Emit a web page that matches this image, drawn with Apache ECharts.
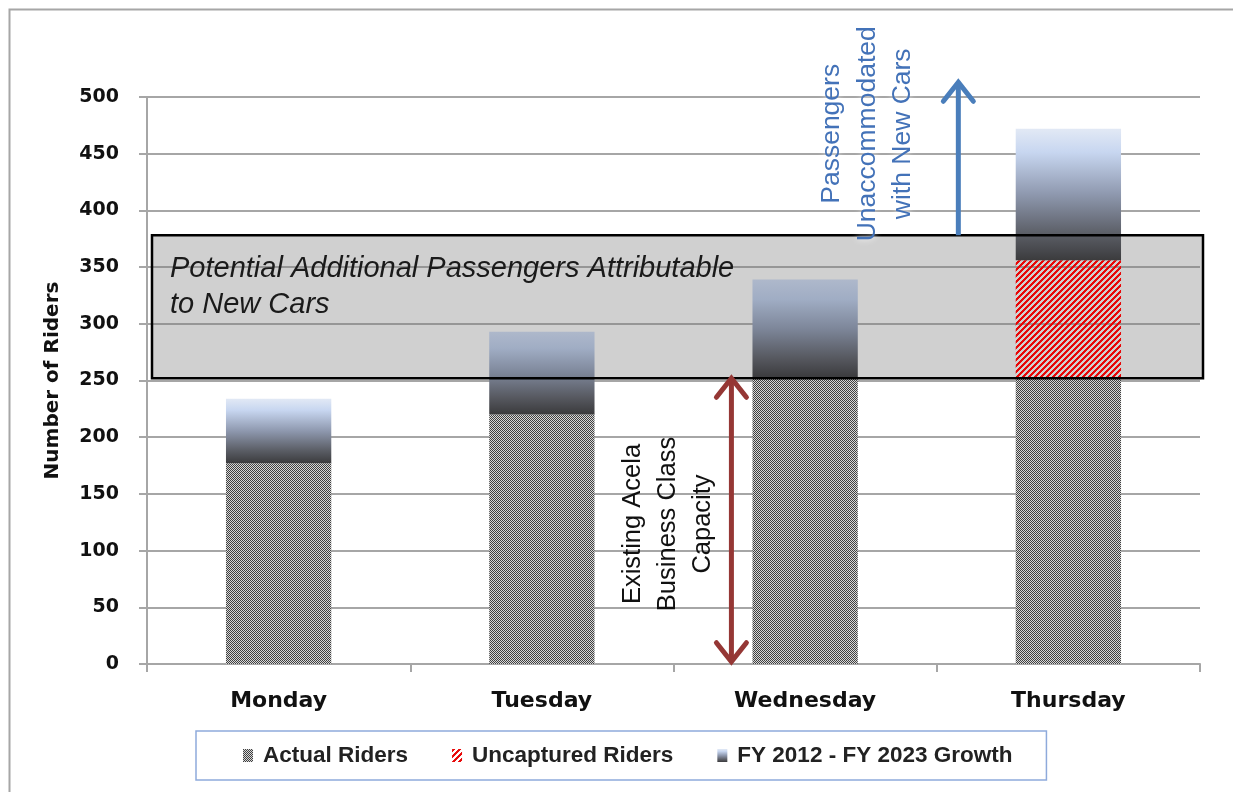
<!DOCTYPE html>
<html><head><meta charset="utf-8">
<script src="https://cdn.jsdelivr.net/npm/echarts@6/dist/echarts.min.js"></script>
<style>html,body{margin:0;padding:0;background:#fff}#chart{width:1233px;height:792px}</style>
</head><body><div id="chart"></div>
<script>
// ---- data ----
const categories = ['Monday', 'Tuesday', 'Wednesday', 'Thursday'];
const actualRiders = [177, 220, 252, 252];
const uncapturedRiders = [0, 0, 0, 104];
const growthRiders = [57, 73, 87, 116];
const yAxisMin = 0, yAxisMax = 500, yAxisInterval = 50;
const potentialBand = [252, 378];          // grey box (riders)
const capacityArrow = [2, 252];           // red double arrow (riders)
const unaccommodatedArrow = [378, 513];   // blue arrow (riders)
const seriesNames = ['Actual Riders', 'Uncaptured Riders', 'FY 2012 - FY 2023 Growth'];
const boxLabel = 'Potential Additional Passengers Attributable\nto New Cars';
const capacityLabel = 'Existing Acela\nBusiness Class\nCapacity';
const unaccommodatedLabel = 'Passengers\nUnaccommodated\nwith New Cars';

// ---- fills ----
function checker() {
  const c = document.createElement('canvas'); c.width = 2; c.height = 2;
  const g = c.getContext('2d');
  g.fillStyle = '#d8d8d8'; g.fillRect(0, 0, 2, 2);
  g.fillStyle = '#404040'; g.fillRect(0, 0, 1, 1); g.fillRect(1, 1, 1, 1);
  return c;
}
function hatch() {
  const n = 6; const c = document.createElement('canvas'); c.width = n; c.height = n;
  const g = c.getContext('2d'); const img = g.createImageData(n, n);
  for (let y = 0; y < n; y++) for (let x = 0; x < n; x++) {
    const i = (y * n + x) * 4;
    if ((x + y) % n < 3) { img.data[i] = 232; img.data[i + 1] = 8; img.data[i + 2] = 8; img.data[i + 3] = 255; }
  }
  g.putImageData(img, 0, 0); return c;
}
const checkerFill = { image: checker(), repeat: 'repeat' };
const hatchFill = { image: hatch(), repeat: 'repeat' };
const lightGrad = new echarts.graphic.LinearGradient(0, 0, 0, 1, [
  { offset: 0, color: '#e2e9f5' }, { offset: 0.18, color: '#c7d6f0' },
  { offset: 0.5, color: '#8e98ae' }, { offset: 0.8, color: '#5b5e66' }, { offset: 1, color: '#3b3b3d' }]);
const grayGrad = new echarts.graphic.LinearGradient(0, 0, 0, 1, [
  { offset: 0, color: '#aeb8cb' }, { offset: 0.2, color: '#a0adc4' },
  { offset: 0.5, color: '#7d8699' }, { offset: 0.8, color: '#56585f' }, { offset: 1, color: '#3a3a3c' }]);

const growthData = growthRiders.map((v, i) => {
  const top = actualRiders[i] + uncapturedRiders[i] + v;
  const inBand = top > potentialBand[0] && top < potentialBand[1];
  return inBand ? { value: v, itemStyle: { color: grayGrad } } : v;
});

const sansFont = '"Liberation Sans", Arial, sans-serif';
const axisFont = '"DejaVu Sans", Verdana, sans-serif';

function arrowShapes(x, yTail, yTip, color, doubleHead) {
  const w = 15, h = 19, lw = 5;
  const els = [{ type: 'line', shape: { x1: x, y1: yTail, x2: x, y2: yTip }, style: { stroke: color, lineWidth: lw } }];
  const dir = yTip < yTail ? 1 : -1;
  els.push({ type: 'polyline', shape: { points: [[x - w, yTip + dir * h], [x, yTip], [x + w, yTip + dir * h]] },
    style: { stroke: color, lineWidth: lw, fill: null, lineJoin: 'miter', lineCap: 'round' } });
  if (doubleHead) {
    els.push({ type: 'polyline', shape: { points: [[x - w, yTail - dir * h], [x, yTail], [x + w, yTail - dir * h]] },
      style: { stroke: color, lineWidth: lw, fill: null, lineJoin: 'miter', lineCap: 'round' } });
  }
  return els;
}

const chart = echarts.init(document.getElementById('chart'), null, { renderer: 'canvas' });
chart.setOption({
  animation: false,
  backgroundColor: '#ffffff',
  graphic: [{ type: 'rect', left: 7, top: 7, shape: { width: 1240, height: 800 }, style: { fill: null, stroke: '#a6a6a6', lineWidth: 2 }, z: -10 }],
  grid: { left: 147, right: 33, top: 97, bottom: 128 },
  xAxis: {
    type: 'category', data: categories,
    axisLine: { lineStyle: { color: '#a6a6a6', width: 2 } },
    axisTick: { show: true, length: 8, lineStyle: { color: '#a6a6a6', width: 2 } },
    axisLabel: { margin: 26, fontFamily: axisFont, fontWeight: 'bold', fontSize: 22, color: '#111' }
  },
  yAxis: {
    type: 'value', min: yAxisMin, max: yAxisMax, interval: yAxisInterval,
    name: 'Number of Riders', nameLocation: 'middle', nameRotate: 90, nameGap: 84,
    nameTextStyle: { fontFamily: axisFont, fontWeight: 'bold', fontSize: 20, color: '#111' },
    axisLine: { show: true, lineStyle: { color: '#a6a6a6', width: 2 } },
    axisTick: { show: true, length: 8, lineStyle: { color: '#a6a6a6', width: 2 } },
    axisLabel: { margin: 28, fontFamily: axisFont, fontWeight: 'bold', fontSize: 19, color: '#111' },
    splitLine: { lineStyle: { color: '#a6a6a6', width: 2 } }
  },
  legend: {
    left: 196, top: 731, orient: 'horizontal',
    itemWidth: 10, itemHeight: 13, itemGap: 44,
    padding: [13, 34, 13, 47],
    borderColor: '#8eaadb', borderWidth: 1.5,
    textStyle: { fontFamily: sansFont, fontWeight: 'bold', fontSize: 22.5, color: '#222', padding: [0, 0, 0, 5] },
    data: seriesNames.map(n => ({ name: n, icon: 'rect' }))
  },
  series: [
    { // grey band fill
      type: 'custom', z: 1, silent: true,
      data: [[0, potentialBand[0], potentialBand[1]]],
      renderItem: (params, api) => {
        const cs = params.coordSys;
        const yTop = api.coord([0, api.value(2)])[1];
        const yBot = api.coord([0, api.value(1)])[1];
        return { type: 'rect', shape: { x: cs.x + 5, y: yTop, width: cs.width - 2, height: yBot - yTop },
          style: { fill: 'rgba(120,120,120,0.35)' } };
      }
    },
    { name: seriesNames[0], type: 'bar', stack: 'riders', z: 2, barCategoryGap: '60%',
      itemStyle: { color: checkerFill }, data: actualRiders },
    { name: seriesNames[1], type: 'bar', stack: 'riders', z: 2,
      itemStyle: { color: hatchFill }, data: uncapturedRiders },
    { name: seriesNames[2], type: 'bar', stack: 'riders', z: 2,
      itemStyle: { color: lightGrad }, data: growthData },
    { // grey band border + label
      type: 'custom', z: 3, silent: true,
      data: [[0, potentialBand[0], potentialBand[1]]],
      renderItem: (params, api) => {
        const cs = params.coordSys;
        const yTop = api.coord([0, api.value(2)])[1];
        const yBot = api.coord([0, api.value(1)])[1];
        return { type: 'group', children: [
          { type: 'rect', shape: { x: cs.x + 5, y: yTop, width: cs.width - 2, height: yBot - yTop },
            style: { fill: null, stroke: '#000', lineWidth: 2.5 } },
          { type: 'text', x: cs.x + 23, y: (yTop + yBot) / 2 - 20,
            style: { text: boxLabel, fill: '#1a1a1a', fontFamily: sansFont, fontStyle: 'italic', fontSize: 29,
              lineHeight: 36, align: 'left', verticalAlign: 'middle' } }
        ] };
      }
    },
    { // capacity arrow + text
      type: 'custom', z: 4, silent: true,
      data: [[2, capacityArrow[0], capacityArrow[1]]],
      renderItem: (params, api) => {
        const band = api.size([1, 0])[0];
        const c = api.coord([api.value(0), api.value(1)]);
        const yTip = api.coord([api.value(0), api.value(2)])[1];
        const x = c[0] - 0.28 * band;
        const tx = c[0] - 0.52 * band;
        const els = arrowShapes(x, c[1], yTip, '#953735', true);
        els.push({ type: 'text', x: tx, y: (c[1] + yTip) / 2 + 4, rotation: Math.PI / 2,
          style: { text: capacityLabel, fill: '#111', fontFamily: sansFont, fontSize: 25.5, lineHeight: 35,
            align: 'center', verticalAlign: 'middle' } });
        return { type: 'group', children: els };
      }
    },
    { // unaccommodated arrow + text
      type: 'custom', z: 4, silent: true,
      data: [[3, unaccommodatedArrow[0], unaccommodatedArrow[1]]],
      renderItem: (params, api) => {
        const band = api.size([1, 0])[0];
        const c = api.coord([api.value(0), api.value(1)]);
        const yTip = api.coord([api.value(0), api.value(2)])[1];
        const x = c[0] - 0.418 * band;
        const tx = c[0] - 0.763 * band;
        const els = arrowShapes(x, c[1], yTip, '#4a7ebb', false);
        els.push({ type: 'text', x: tx, y: (c[1] + yTip) / 2 - 25, rotation: Math.PI / 2,
          style: { text: unaccommodatedLabel, fill: '#4372b8', fontFamily: sansFont, fontSize: 26.5, lineHeight: 35.5,
            align: 'center', verticalAlign: 'middle', textShadowColor: '#ffffff', textShadowBlur: 6 } });
        return { type: 'group', children: els };
      }
    }
  ]
});
</script></body></html>
